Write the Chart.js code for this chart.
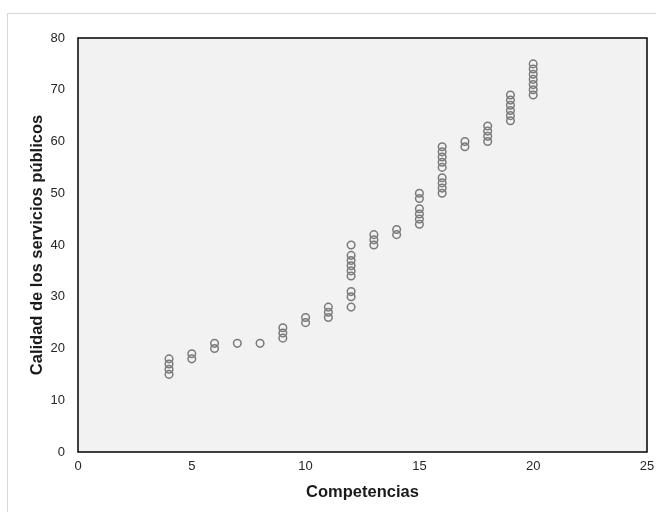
<!DOCTYPE html>
<html>
<head>
<meta charset="utf-8">
<style>
  html, body { margin: 0; padding: 0; background: #fff; }
  .frame { position: absolute; left: 7px; top: 13px; width: 700px; height: 600px; border: 1px solid #d9d9d9; }
  #chart { position: absolute; left: 0; top: 0; }
</style>
<script src="https://cdn.jsdelivr.net/npm/chart.js@4.4.1/dist/chart.umd.min.js"></script>
</head>
<body>
<div class="frame"></div>
<canvas id="chart" width="656" height="512"></canvas>
<script>
// Competencias (x) y Calidad de los servicios públicos (y)
const competencias = [
  4, 4, 4, 4,
  5, 5,
  6, 6,
  7,
  8,
  9, 9, 9,
  10, 10,
  11, 11, 11,
  12, 12, 12, 12, 12, 12, 12, 12, 12,
  13, 13, 13,
  14, 14,
  15, 15, 15, 15, 15, 15,
  16, 16, 16, 16, 16, 16, 16, 16, 16,
  17, 17,
  18, 18, 18, 18,
  19, 19, 19, 19, 19, 19,
  20, 20, 20, 20, 20, 20, 20
];
const calidad = [
  15, 16, 17, 18,
  18, 19,
  20, 21,
  21,
  21,
  22, 23, 24,
  25, 26,
  26, 27, 28,
  28, 30, 31, 34, 35, 36, 37, 38, 40,
  40, 41, 42,
  42, 43,
  44, 45, 46, 47, 49, 50,
  50, 51, 52, 53, 55, 56, 57, 58, 59,
  59, 60,
  60, 61, 62, 63,
  64, 65, 66, 67, 68, 69,
  69, 70, 71, 72, 73, 74, 75
];
const xTicks = [0, 5, 10, 15, 20, 25];
const yTicks = [0, 10, 20, 30, 40, 50, 60, 70, 80];

const points = competencias.map((c, i) => ({ x: c, y: calidad[i] }));

const plotArea = {
  id: 'plotArea',
  beforeDatasetsDraw(chart) {
    const { ctx, chartArea: a } = chart;
    ctx.save();
    ctx.fillStyle = '#f2f2f2';
    ctx.fillRect(a.left, a.top, a.right - a.left, a.bottom - a.top);
    ctx.strokeStyle = '#000';
    ctx.lineWidth = 1.5;
    ctx.strokeRect(a.left, a.top, a.right - a.left, a.bottom - a.top);
    ctx.restore();
  }
};

const tickFont = { family: "'Liberation Sans', Arial, sans-serif", size: 13 };
const titleFont = { family: "'Liberation Sans', Arial, sans-serif", size: 16.5, weight: 'bold' };

new Chart(document.getElementById('chart').getContext('2d'), {
  type: 'scatter',
  data: {
    datasets: [{
      data: points,
      pointStyle: 'circle',
      pointRadius: 3.8,
      pointBorderWidth: 1.5,
      pointBorderColor: '#7a7a7a',
      pointBackgroundColor: 'rgba(0,0,0,0)'
    }]
  },
  options: {
    responsive: false,
    devicePixelRatio: 1,
    animation: false,
    layout: { padding: { left: 0, top: 38, right: 9, bottom: 0 } },
    plugins: { legend: { display: false }, tooltip: { enabled: false } },
    scales: {
      x: {
        type: 'linear',
        min: xTicks[0],
        max: xTicks[xTicks.length - 1],
        afterBuildTicks: s => { s.ticks = xTicks.map(v => ({ value: v })); },
        afterFit: s => { s.height = 60; s.paddingLeft = 0; s.paddingRight = 0; },
        grid: { display: false, drawTicks: false },
        border: { display: false },
        ticks: { font: tickFont, color: '#262626', padding: 7, maxRotation: 0 },
        title: { display: true, text: 'Competencias', font: titleFont, color: '#1a1a1a', padding: { top: 0, bottom: 10 } }
      },
      y: {
        type: 'linear',
        min: yTicks[0],
        max: yTicks[yTicks.length - 1],
        afterBuildTicks: s => { s.ticks = yTicks.map(v => ({ value: v })); },
        afterFit: s => { s.width = 78; s.paddingTop = 0; s.paddingBottom = 0; },
        grid: { display: false, drawTicks: false },
        border: { display: false },
        ticks: { font: tickFont, color: '#262626', padding: 13 },
        title: { display: true, text: 'Calidad de los servicios públicos', font: titleFont, color: '#1a1a1a', padding: { top: 28, bottom: 0 } }
      }
    }
  },
  plugins: [plotArea]
});
</script>
</body>
</html>
